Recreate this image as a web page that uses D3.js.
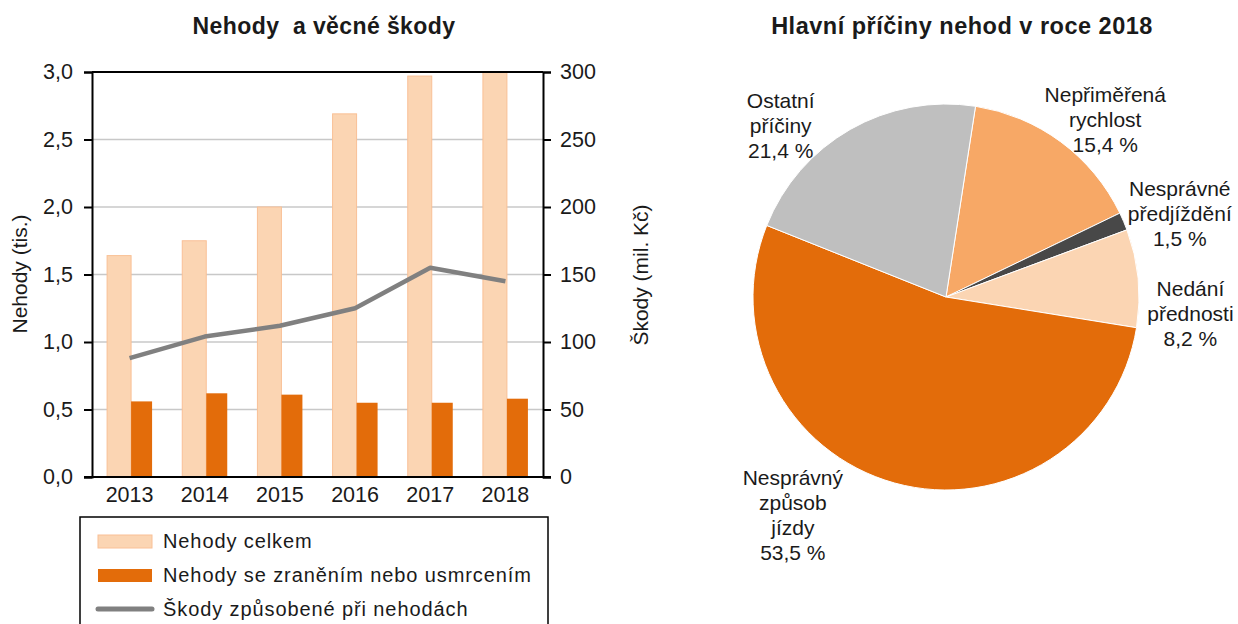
<!DOCTYPE html>
<html lang="cs">
<head>
<meta charset="UTF-8">
<title>Nehody</title>
<script src="https://d3js.org/d3.v7.min.js"></script>
<style>
  body { margin: 0; background: #fff; }
  text { font-family: "Liberation Sans", Arial, sans-serif; fill: #1a1a1a; }
</style>
</head>
<body>
<div id="chart"></div>
<script>
// data
var years = ["2013", "2014", "2015", "2016", "2017", "2018"];
var nehodyCelkem = [1.64, 1.75, 2.00, 2.69, 2.97, 3.00];
var nehodyZraneni = [0.56, 0.62, 0.61, 0.55, 0.55, 0.58];
var skody = [88, 104, 112, 125, 155, 145];
var leftTicks = [0, 0.5, 1, 1.5, 2, 2.5, 3];
var rightTicks = [0, 50, 100, 150, 200, 250, 300];

var pricinyNames = [["Nepřiměřená", "rychlost"], ["Nesprávné", "předjíždění"], ["Nedání", "přednosti"],
                    ["Nesprávný", "způsob", "jízdy"], ["Ostatní", "příčiny"]];
var pricinyValues = [15.4, 1.5, 8.2, 53.5, 21.4];
var pricinyColors = ["#f7a866", "#484848", "#fbd5b3", "#e36c0a", "#bfbfbf"];

var W = 1238, H = 624;
var svg = d3.select("#chart").append("svg").attr("width", W).attr("height", H);

// ---------- left chart ----------
var m = {l: 92, r: 543, t: 72, b: 477};
var x = d3.scaleBand().domain(years).range([m.l, m.r]);
var yL = d3.scaleLinear().domain([0, 3]).range([m.b, m.t]);
var yR = d3.scaleLinear().domain([0, 300]).range([m.b, m.t]);
var fmt = function(d) { return d3.format(".1f")(d).replace(".", ","); };

svg.append("text").attr("x", 324).attr("y", 34).attr("text-anchor", "middle")
  .style("font-size", "23px").style("font-weight", "bold").style("letter-spacing", "0.4px")
  .attr("xml:space", "preserve").text("Nehody  a věcné škody");

// grid
svg.append("g").selectAll("line").data(leftTicks.slice(1, -1)).enter().append("line")
  .attr("x1", m.l).attr("x2", m.r).attr("y1", yL).attr("y2", yL)
  .attr("stroke", "#c8c8c8").attr("stroke-width", 1.5);

var bw1 = 24, bw2 = 21;
svg.append("g").selectAll("rect").data(nehodyCelkem).enter().append("rect")
  .attr("x", function(d, i) { return x(years[i]) + x.bandwidth() / 2 - (bw1 + bw2) / 2; })
  .attr("y", function(d) { return yL(d); })
  .attr("width", bw1).attr("height", function(d) { return yL(0) - yL(d); })
  .attr("fill", "#fbd5b3").attr("stroke", "#f9c096").attr("stroke-width", 1);

svg.append("g").selectAll("rect").data(nehodyZraneni).enter().append("rect")
  .attr("x", function(d, i) { return x(years[i]) + x.bandwidth() / 2 - (bw1 + bw2) / 2 + bw1; })
  .attr("y", function(d) { return yL(d); })
  .attr("width", bw2).attr("height", function(d) { return yL(0) - yL(d); })
  .attr("fill", "#e36c0a");

var line = d3.line()
  .x(function(d, i) { return x(years[i]) + x.bandwidth() / 2; })
  .y(function(d) { return yR(d); });
svg.append("path").datum(skody).attr("d", line)
  .attr("fill", "none").attr("stroke", "#808080").attr("stroke-width", 4.5).attr("stroke-linejoin", "round");

// axes
var axL = svg.append("g").attr("transform", "translate(" + m.l + ",0)")
  .call(d3.axisLeft(yL).tickValues(leftTicks).tickFormat(fmt).tickSize(8).tickPadding(11));
var axR = svg.append("g").attr("transform", "translate(" + m.r + ",0)")
  .call(d3.axisRight(yR).tickValues(rightTicks).tickSize(8).tickPadding(9));
var axB = svg.append("g").attr("transform", "translate(0," + m.b + ")")
  .call(d3.axisBottom(x).tickSize(0).tickPadding(10));
[axL, axR, axB].forEach(function(a) {
  a.select(".domain").attr("stroke", "#000").attr("stroke-width", 2);
  a.selectAll(".tick line").attr("stroke", "#000").attr("stroke-width", 2);
  a.selectAll("text").style("font-size", "21.5px").style("font-family", "Liberation Sans, Arial, sans-serif").attr("fill", "#1a1a1a");
});
axB.select(".domain").attr("d", "M" + (m.l - 8) + ",0H" + (m.r + 8));
svg.append("line").attr("x1", m.l).attr("x2", m.r).attr("y1", m.t).attr("y2", m.t)
  .attr("stroke", "#000").attr("stroke-width", 2);

svg.append("text").attr("transform", "translate(27,274) rotate(-90)").attr("text-anchor", "middle")
  .style("font-size", "21px").text("Nehody (tis.)");
svg.append("text").attr("transform", "translate(648,275) rotate(-90)").attr("text-anchor", "middle")
  .style("font-size", "21px").text("Škody (mil. Kč)");

// legend
var lg = svg.append("g");
lg.append("rect").attr("x", 80).attr("y", 517).attr("width", 468).attr("height", 120)
  .attr("fill", "#fff").attr("stroke", "#000").attr("stroke-width", 1.5);
var legItems = ["Nehody celkem", "Nehody se zraněním nebo usmrcením", "Škody způsobené při nehodách"];
legItems.forEach(function(t, i) {
  var yy = 541 + i * 34;
  if (i < 2) {
    lg.append("rect").attr("x", 98).attr("y", yy - 6).attr("width", 54).attr("height", 13)
      .attr("fill", i == 0 ? "#fbd5b3" : "#e36c0a").attr("stroke", i == 0 ? "#f9c096" : "none");
  } else {
    lg.append("line").attr("x1", 98).attr("x2", 152).attr("y1", yy).attr("y2", yy)
      .attr("stroke", "#808080").attr("stroke-width", 5).attr("stroke-linecap", "round");
  }
  lg.append("text").attr("x", 163).attr("y", yy + 7).style("font-size", "20px")
    .style("letter-spacing", "0.9px").text(t);
});

// ---------- pie ----------
var cx = 946, cy = 297, R = 193;
svg.append("text").attr("x", 962).attr("y", 34).attr("text-anchor", "middle")
  .style("font-size", "23.5px").style("font-weight", "bold").style("letter-spacing", "0.5px")
  .text("Hlavní příčiny nehod v roce 2018");

var start = 8.8 * Math.PI / 180;
var pie = d3.pie().sort(null).startAngle(start).endAngle(start + 2 * Math.PI);
var arcs = pie(pricinyValues);
var arc = d3.arc().innerRadius(0).outerRadius(R);
var pg = svg.append("g").attr("transform", "translate(" + cx + "," + cy + ")");
pg.selectAll("path").data(arcs).enter().append("path")
  .attr("d", arc).attr("fill", function(d, i) { return pricinyColors[i]; })
  .attr("stroke", "#fff").attr("stroke-width", 1);

// label placement (angle in degrees from top, radius)
var labelAt = [[42, 238], [70.5, 248], [94, 245], [215, 267], [316, 238]];
arcs.forEach(function(d, i) {
  var a = labelAt[i][0] * Math.PI / 180, r = labelAt[i][1];
  var lx = cx + r * Math.sin(a), ly = cy - r * Math.cos(a);
  var lines = pricinyNames[i].concat([fmt(pricinyValues[i]) + " %"]);
  var t = svg.append("text").attr("text-anchor", "middle").style("font-size", "21px");
  var y0 = ly - (lines.length - 1) * 25 / 2 + 7;
  lines.forEach(function(s, k) {
    t.append("tspan").attr("x", lx).attr("y", y0 + k * 25).text(s);
  });
});
</script>
</body>
</html>
